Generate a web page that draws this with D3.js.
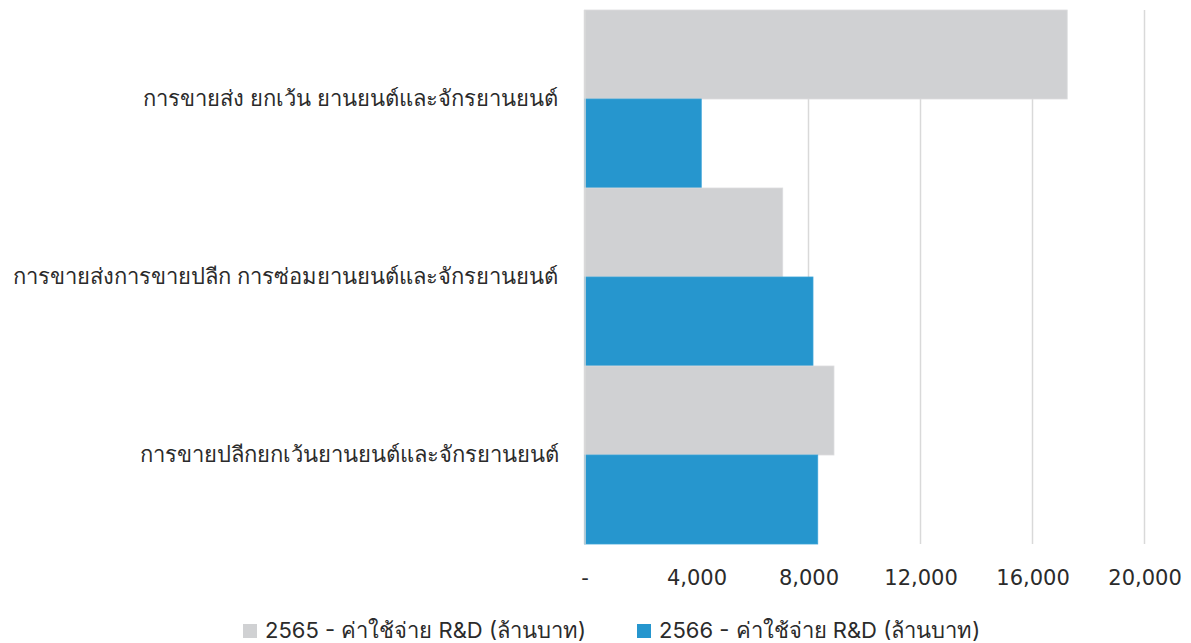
<!DOCTYPE html>
<html>
<head>
<meta charset="utf-8">
<script src="https://cdn.jsdelivr.net/npm/d3@7"></script>
<style>
  html, body { margin: 0; padding: 0; background: #fff; }
  svg { display: block; font-family: Inter, "Noto Sans", "Open Sans", sans-serif; }
</style>
</head>
<body>
<svg id="chart" width="1191" height="643"></svg>
<script>
// R&D spending by business sector (million baht)
const categories = [
  "การขายส่ง ยกเว้น ยานยนต์และจักรยานยนต์",
  "การขายส่งการขายปลีก การซ่อมยานยนต์และจักรยานยนต์",
  "การขายปลีกยกเว้นยานยนต์และจักรยานยนต์"
];
const seriesNames = [
  "2565 - ค่าใช้จ่าย R&D (ล้านบาท)",
  "2566 - ค่าใช้จ่าย R&D (ล้านบาท)"
];
const values2565 = [17240, 7080, 8910];
const values2566 = [4170, 8160, 8330];
const tickValues = [0, 4000, 8000, 12000, 16000, 20000];
const colors = ["#d0d1d3", "#2696ce"];

const svg = d3.select("#chart");
const margin = { top: 10, left: 584.5, right: 46.5, bottom: 99 };
const W = 1191, H = 643;
const innerW = W - margin.left - margin.right;
const innerH = H - margin.top - margin.bottom;

const x = d3.scaleLinear().domain([0, 20000]).range([0, innerW]);
const y = d3.scaleBand().domain(categories).range([0, innerH]).padding(0);
const ySub = d3.scaleBand().domain(seriesNames).range([0, y.bandwidth()]).padding(0);

const g = svg.append("g").attr("transform", `translate(${margin.left},${margin.top})`);

// vertical gridlines
g.append("g")
  .selectAll("line")
  .data(tickValues)
  .join("line")
  .attr("x1", d => x(d)).attr("x2", d => x(d))
  .attr("y1", 0).attr("y2", innerH)
  .attr("stroke", "#d9d9d9")
  .attr("stroke-width", 1.5);

// bars
const rows = categories.map((c, i) => ({ cat: c, vals: [values2565[i], values2566[i]] }));
const groups = g.selectAll("g.cat")
  .data(rows)
  .join("g")
  .attr("class", "cat")
  .attr("transform", d => `translate(0,${y(d.cat)})`);

groups.selectAll("rect")
  .data(d => d.vals.map((v, j) => ({ v, s: seriesNames[j], j })))
  .join("rect")
  .attr("x", 0)
  .attr("y", d => ySub(d.s))
  .attr("width", d => x(d.v))
  .attr("height", ySub.bandwidth())
  .attr("fill", d => colors[d.j])
  .attr("stroke", d => d.j === 0 ? "#dcdddf" : "#3aa3d8")
  .attr("stroke-width", 0.8);

// x axis labels
const fmt = d => d === 0 ? "-" : d3.format(",")(d);
const xAxis = d3.axisBottom(x).tickValues(tickValues).tickFormat(fmt).tickSize(0).tickPadding(0);
const xg = g.append("g").attr("transform", `translate(0,${innerH + 34})`).call(xAxis);
xg.select(".domain").remove();
xg.selectAll("text")
  .attr("dy", "0.35em")
  .attr("font-family", "'DejaVu Sans', sans-serif")
  .attr("font-size", 21)
  .attr("fill", "#2b2b2b");

// category labels
const yAxis = d3.axisLeft(y).tickSize(0).tickPadding(26);
const yg = g.append("g").call(yAxis);
yg.select(".domain").attr("stroke", "#d9d9d9").attr("stroke-width", 1.5);
yg.selectAll("text")
  .attr("font-size", 22)
  .attr("fill", "#2b2b2b");

// legend
const legendX = [243, 637];
const legend = svg.append("g").attr("transform", `translate(0,630)`);
const items = legend.selectAll("g")
  .data(seriesNames)
  .join("g")
  .attr("transform", (d, i) => `translate(${legendX[i]},0)`);
items.append("rect")
  .attr("x", 0).attr("y", -6)
  .attr("width", 14).attr("height", 14)
  .attr("fill", (d, i) => colors[i]);
items.append("text")
  .attr("x", 22)
  .attr("dy", "0.35em")
  .attr("font-size", 22)
  .attr("fill", "#2b2b2b")
  .text(d => d);
</script>
</body>
</html>
